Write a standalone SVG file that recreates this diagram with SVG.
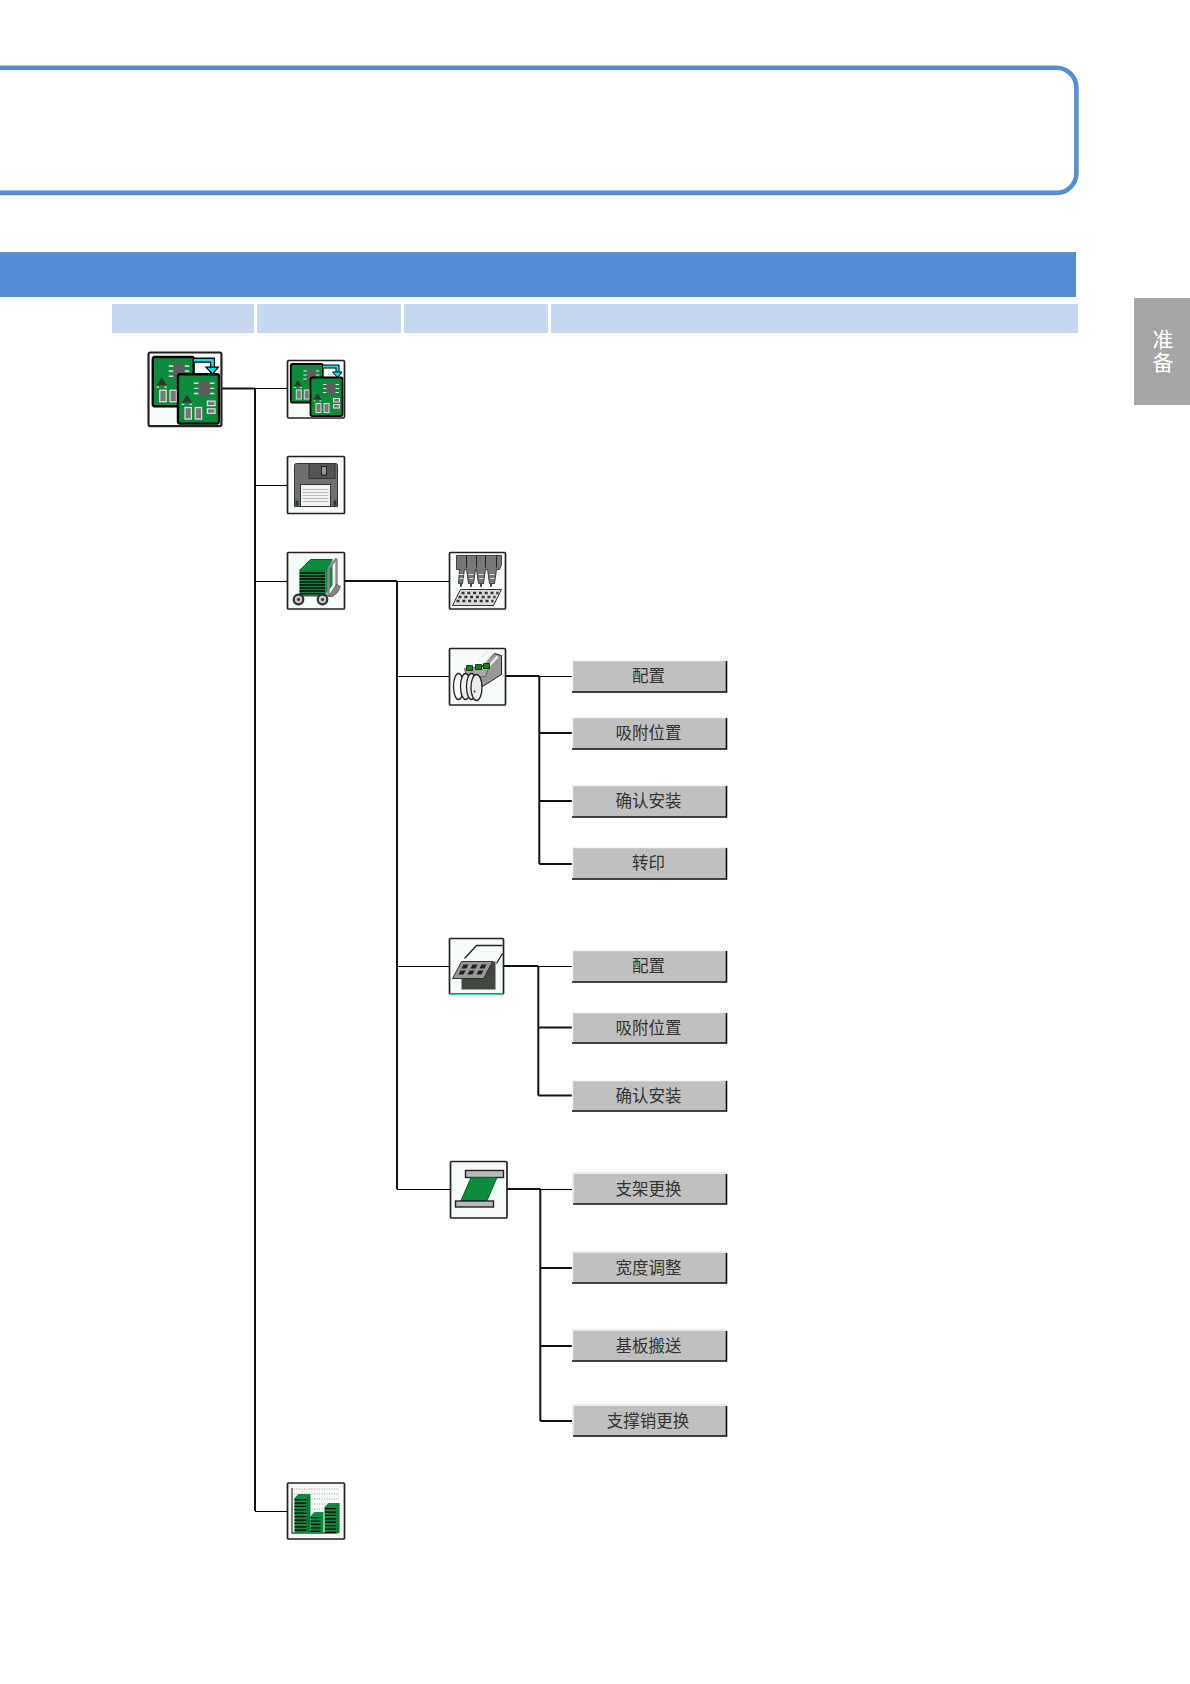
<svg xmlns="http://www.w3.org/2000/svg" width="1190" height="1684" viewBox="0 0 1190 1684">
<style>
.hd{fill:#c6d9f1}
.box{fill:#f7fbf7;stroke:#222;stroke-width:1.700}
.btn{fill:#c0c0c0}
.hl{stroke:#f4f4f4;stroke-width:1.400;fill:none}
.sh{stroke:#111;stroke-width:1.600;fill:none}
.t{font:16.500px "Noto Sans CJK SC","Liberation Sans",sans-serif;fill:#333;text-anchor:middle}
.c1{stroke:#000;stroke-width:1.100;fill:none}
.c2{stroke:#111;stroke-width:2;fill:none}
.b{fill:#0a8c3c;stroke:#000;stroke-width:1.800}
.g{fill:#5c5c5c}
.pin{stroke:#e4e4e4;stroke-width:1.100}
.part{fill:#777;stroke:#ddd;stroke-width:1}
.tab{font:21px "Noto Sans CJK SC",sans-serif;fill:#fff;writing-mode:vertical-rl;letter-spacing:1.500px}
</style>
<defs>
<g id="board">
<rect class="b" x="0" y="0" width="32" height="38.500" rx="1.500"/>
<rect class="g" x="16" y="5" width="9" height="12"/>
<path class="pin" d="M12.500 7h3.500M12.500 11h3.500M12.500 15h3.500M25 7h3.500M25 11h3.500M25 15h3.500"/>
<path d="M7 16l4 6h-8z" fill="#333"/>
<path d="M3 23.500h2M9 23.500h2" stroke="#ddd"/>
<rect class="part" x="5.500" y="26" width="5" height="9"/>
<rect class="part" x="13.500" y="26" width="5" height="9"/>
<rect class="part" x="23" y="21" width="6" height="3.500"/>
<rect class="part" x="23" y="27" width="6" height="3.500"/>
</g>
<g id="pcb">
<rect class="box" x="0" y="0" width="57" height="57.500" rx="1.500"/>
<use href="#board" x="3.300" y="3.500"/>
<path d="M35.500 6H50V12" fill="none" stroke="#000" stroke-width="4"/>
<path d="M35.500 6H50V12" fill="none" stroke="#00e0f0" stroke-width="2"/>
<path d="M45 11.500H54.500L50 17z" fill="#00e0f0" stroke="#000" stroke-width="1"/>
<use href="#board" x="23" y="17"/>
</g>
</defs>

<g id="title-frame"><rect x="-30" y="67.700" width="1106.400" height="125.200" rx="20" fill="none" stroke="#558ed5" stroke-width="4.600"/></g>
<g id="header-bar"><rect x="0" y="252" width="1076" height="45" fill="#558ed5"/></g>
<g id="column-heads">
<rect class="hd" x="112" y="304" width="142" height="29"/>
<rect class="hd" x="257" y="304" width="144" height="29"/>
<rect class="hd" x="404" y="304" width="144" height="29"/>
<rect class="hd" x="551" y="304" width="527" height="29"/>
</g>
<g id="side-tab"><rect x="1134" y="298" width="56" height="107" fill="#a6a6a6"/>
<text class="tab" x="1163" y="329">准备</text></g>

<g id="connectors">
<path class="c2" d="M222 388.500H255M255 388.500V1511"/>
<path class="c1" d="M255 388.500H287M255 485.500H287M255 581.500H287M255 1511.500H287"/>
<path class="c2" d="M345 581H397M397 581V1189"/>
<path class="c1" d="M397 581.500H449M397 676.500H449M397 966.500H449M397 1189.500H450"/>
<path class="c2" d="M505 676H539.300M539.300 676V864M539.300 733H572M539.300 801H572M539.300 864H572"/>
<path class="c1" d="M539.300 676.500H572"/>
<path class="c2" d="M503 966H538.300M538.300 966V1095.500M538.300 1027.500H572M538.300 1095.500H572"/>
<path class="c1" d="M538.300 966.500H572"/>
<path class="c2" d="M507 1189H540.300M540.300 1189V1421M540.300 1268H572M540.300 1346H572M540.300 1421H572"/>
<path class="c1" d="M540.300 1189.500H572"/>
</g>

<g id="n-main"><use href="#pcb" transform="translate(148.500 352.500) scale(1.280)"/></g>
<g id="n-pcb"><use href="#pcb" x="287.500" y="360.500"/></g>
<g id="n-floppy" transform="translate(287.500 456.500)">
<rect class="box" width="57" height="57" rx="1"/>
<path d="M9 7H48a2 2 0 0 1 2 2V50H7V9a2 2 0 0 1 2-2z" fill="#707070" stroke="#333"/>
<rect x="21.500" y="7" width="26" height="15" fill="#555" stroke="#333"/>
<rect x="34" y="10" width="5" height="8.500" fill="#999" stroke="#222"/>
<rect x="13" y="28" width="30" height="22" fill="#f2f2f2" stroke="#333"/>
<path d="M15 33H41M15 36H41M15 39H41M15 42H41M15 45H41" stroke="#bbb"/>
<path d="M8 44h3v5h-3zM46 44h3v5h-3z" fill="#333"/>
</g>
<g id="n-cart" transform="translate(287.500 552.500)">
<rect class="box" width="57" height="56.500" rx="1"/>
<path d="M12 18L23 7H45L38 18z" fill="#0a8c3c" stroke="#063"/>
<rect x="12" y="18" width="26" height="24" fill="#0a8c3c"/>
<path d="M12 20.500H38M12 23.500H38M12 26.500H38M12 29.500H38M12 32.500H38M12 35.500H38M12 38.500H38M12 41.500H38" stroke="#000" stroke-width="1.300"/>
<path d="M38 18L45 9V33L38 42z" fill="#0a8c3c"/>
<path d="M41 16V44M49 6V34M41 16L49 6" stroke="#888" stroke-width="2.400" fill="none"/>
<path d="M41 44L49 32L53 34L50 40L45 44z" fill="#888" stroke="#444" stroke-width=".7"/>
<path d="M9 43H40" stroke="#555" stroke-width="2"/>
<circle cx="11" cy="47" r="4.800" fill="#ccc" stroke="#333" stroke-width="2.200"/>
<circle cx="35" cy="47" r="4.800" fill="#ccc" stroke="#333" stroke-width="2.200"/>
<circle cx="11" cy="47" r="1.600" fill="#333"/>
<circle cx="35" cy="47" r="1.600" fill="#333"/>
</g>
<g id="n-nozzle" transform="translate(449.500 552.500)">
<rect class="box" width="56" height="56.500" rx="1"/>
<path d="M7 3H52V12L50 17H47L45 31H42V34H41V31H40L38 17H36L34 31H32V34H31V31H29L27 17H26L24 31H22V34H21V31H19L17 17H15L13 31H12V34H11V31H9L10 17H7z" fill="#777" stroke="#222" stroke-width=".8"/>
<path d="M17 3V15M27 3V15M36 3V15M47 3V15" stroke="#222"/>
<path d="M9 22H14M19 22H24M29 22H34M40 22H45M10 26H14M20 26H24M30 26H34M41 26H45" stroke="#ddd"/>
<path d="M11 37H52L44 53H3z" fill="#ddd" stroke="#333"/>
<path d="M12 40.500H49M9 44.500H46M7 48.500H44" stroke="#333" stroke-width="2.400" stroke-dasharray="3 2.800"/>
</g>
<g id="n-feeder" transform="translate(449.500 648.500)">
<rect class="box" width="56" height="56.500" rx="1"/>
<path d="M27 23L45 5L52 7V26L33 38z" fill="#999" stroke="#222"/>
<path d="M34 15L43 5M39 18L48 8M29 13L38 3" stroke="#eee" stroke-width="2.400"/>
<path d="M15 20L40 17L36 28L17 30z" fill="#aaa" stroke="#333" stroke-width=".6"/>
<path d="M17 17h6v5h-6zM26 16h6v5h-6zM34 15h6v5h-6z" fill="#0a8c0a" stroke="#000" stroke-width=".7"/>
<ellipse cx="9" cy="38" rx="5" ry="13" fill="#fff" stroke="#222" stroke-width="1.300"/>
<ellipse cx="16" cy="38" rx="5" ry="13" fill="#eee" stroke="#222" stroke-width="1.300"/>
<ellipse cx="22" cy="38" rx="5" ry="13" fill="#eee" stroke="#222" stroke-width="1.300"/>
<ellipse cx="27" cy="39" rx="5.500" ry="13" fill="#eee" stroke="#222" stroke-width="1.300"/>
<circle cx="25" cy="43" r="1" fill="#333"/>
</g>
<g id="n-tray" transform="translate(449.500 938.500)">
<rect class="box" width="54" height="55.500" rx="1"/>
<path d="M-0.500 56H54.500" stroke="#40d0c8" stroke-width="1.300"/>
<path d="M15 20L27 7H53M53 15L47 25" stroke="#222" stroke-width="1.300" fill="none"/>
<rect x="12" y="23" width="34" height="28" fill="#404840"/>
<path d="M3 40L12 23H43L34 40z" fill="#999" stroke="#333"/>
<path d="M14 26h5l-2 4h-5zM23 26h5l-2 4h-5zM32 26h5l-2 4h-5zM11 32h5l-2 4h-5zM20 32h5l-2 4h-5zM29 32h5l-2 4h-5z" fill="#222"/>
</g>
<g id="n-conveyor" transform="translate(450.500 1161.500)">
<rect class="box" width="56.500" height="56.500" rx="1"/>
<rect x="15" y="9" width="38" height="7" fill="#bbb" stroke="#222" stroke-width="1.400"/>
<path d="M20.500 16H46.500L36.500 39H10.500z" fill="#0a8c3c" stroke="#063"/>
<rect x="5" y="39.500" width="38" height="6" fill="#bbb" stroke="#222" stroke-width="1.400"/>
</g>
<g id="n-chart" transform="translate(287.500 1483)">
<rect class="box" width="57" height="56" rx="1"/>
<path d="M4 6H51M4 11H51M4 16H51M4 21H51M4 26H51" stroke="#999" stroke-width="1" stroke-dasharray="1 1.500"/>
<path d="M4.500 5V50H50" stroke="#444" stroke-width="1.300" fill="none"/>
<path d="M7 15L11 11H23V50H7z" fill="#0a8c3c"/>
<path d="M13 16V50" stroke="#000" stroke-width="12" stroke-dasharray="1.300 2.100"/>
<path d="M21 14V50" stroke="#063" stroke-width="3" stroke-dasharray="1.300 1.300"/>
<path d="M23 33L27 29H36V50H23z" fill="#0a8c3c"/>
<path d="M28 34V50" stroke="#000" stroke-width="10" stroke-dasharray="1.300 2.100"/>
<path d="M37 24L41 20H52V50H37z" fill="#0a8c3c"/>
<path d="M43 25V50" stroke="#000" stroke-width="11" stroke-dasharray="1.300 2.100"/>
<path d="M50.500 22V50" stroke="#063" stroke-width="2.500" stroke-dasharray="1.300 1.300"/>
</g>

<g id="b1"><rect class="btn" x="572" y="660" width="154.500" height="32.500"/><path class="hl" d="M572.500 692V660.500H726"/><path class="sh" d="M572 692H726.500V661"/><text class="t" x="648.500" y="682">配置</text></g>
<g id="b2"><rect class="btn" x="572" y="717" width="154.500" height="32.500"/><path class="hl" d="M572.500 749V717.500H726"/><path class="sh" d="M572 749H726.500V718"/><text class="t" x="648.500" y="739">吸附位置</text></g>
<g id="b3"><rect class="btn" x="572" y="785" width="154.500" height="32.500"/><path class="hl" d="M572.500 817V785.500H726"/><path class="sh" d="M572 817H726.500V786"/><text class="t" x="648.500" y="807">确认安装</text></g>
<g id="b4"><rect class="btn" x="572" y="847" width="154.500" height="32.500"/><path class="hl" d="M572.500 879V847.500H726"/><path class="sh" d="M572 879H726.500V848"/><text class="t" x="648.500" y="869">转印</text></g>
<g id="b5"><rect class="btn" x="572" y="950" width="154.500" height="32.500"/><path class="hl" d="M572.500 982V950.500H726"/><path class="sh" d="M572 982H726.500V951"/><text class="t" x="648.500" y="972">配置</text></g>
<g id="b6"><rect class="btn" x="572" y="1012" width="154.500" height="31.500"/><path class="hl" d="M572.500 1043V1012.500H726"/><path class="sh" d="M572 1043H726.500V1013"/><text class="t" x="648.500" y="1033.500">吸附位置</text></g>
<g id="b7"><rect class="btn" x="572" y="1080" width="154.500" height="31.500"/><path class="hl" d="M572.500 1111V1080.500H726"/><path class="sh" d="M572 1111H726.500V1081"/><text class="t" x="648.500" y="1102">确认安装</text></g>
<g id="b8"><rect class="btn" x="572.500" y="1172.500" width="154" height="31.500"/><path class="hl" d="M573 1204V1173H726"/><path class="sh" d="M573 1204H726.500V1174"/><text class="t" x="648.500" y="1195">支架更换</text></g>
<g id="b9"><rect class="btn" x="572" y="1251.500" width="154.500" height="31.500"/><path class="hl" d="M572.500 1283V1252H726"/><path class="sh" d="M572 1283H726.500V1253"/><text class="t" x="648.500" y="1274">宽度调整</text></g>
<g id="b10"><rect class="btn" x="572" y="1329.500" width="154.500" height="32"/><path class="hl" d="M572.500 1361V1330H726"/><path class="sh" d="M572 1361H726.500V1331"/><text class="t" x="648.500" y="1352">基板搬送</text></g>
<g id="b11"><rect class="btn" x="572.500" y="1404.500" width="154" height="32"/><path class="hl" d="M573 1436V1405H726"/><path class="sh" d="M573 1436H726.500V1406"/><text class="t" x="648" y="1427">支撑销更换</text></g>
</svg>
